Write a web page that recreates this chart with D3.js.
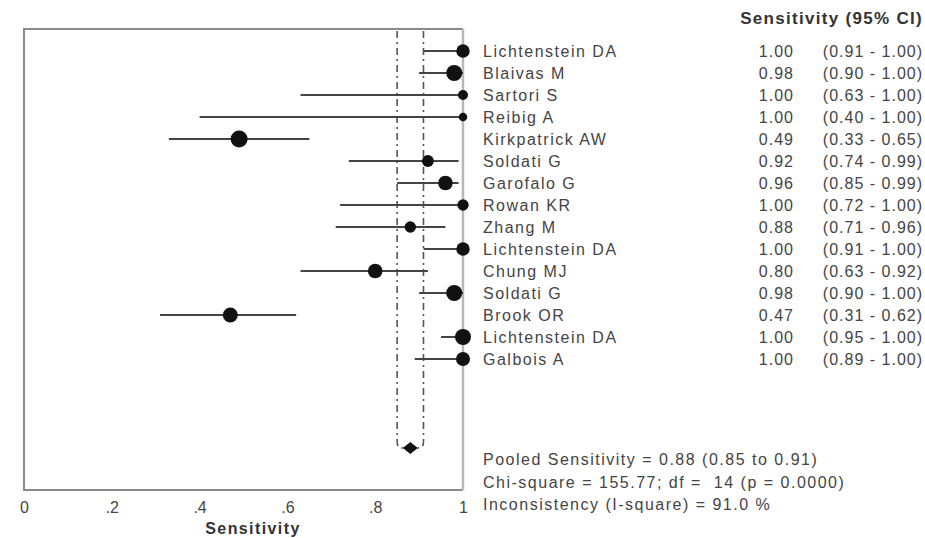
<!DOCTYPE html>
<html>
<head>
<meta charset="utf-8">
<script src="https://cdn.jsdelivr.net/npm/d3@7"></script>
<style>
	body { margin: 0; background: #fff; }
	text { font-family: "Liberation Sans", Arial, sans-serif; white-space: pre; }
</style>
</head>
<body>
<svg id="chart" width="925" height="538"></svg>
<script>
const studies = ["Lichtenstein DA", "Blaivas M", "Sartori S", "Reibig A", "Kirkpatrick AW", "Soldati G", "Garofalo G", "Rowan KR", "Zhang M", "Lichtenstein DA", "Chung MJ", "Soldati G", "Brook OR", "Lichtenstein DA", "Galbois A"]
const sens = [1.00, 0.98, 1.00, 1.00, 0.49, 0.92, 0.96, 1.00, 0.88, 1.00, 0.80, 0.98, 0.47, 1.00, 1.00]
const lower = [0.91, 0.90, 0.63, 0.40, 0.33, 0.74, 0.85, 0.72, 0.71, 0.91, 0.63, 0.90, 0.31, 0.95, 0.89]
const upper = [1.00, 1.00, 1.00, 1.00, 0.65, 0.99, 0.99, 1.00, 0.96, 1.00, 0.92, 1.00, 0.62, 1.00, 1.00]
// relative study weights (marker area)
const weights = [45, 64, 25, 18, 72, 36, 53, 32, 32, 45, 53, 64, 56, 64, 49]
const pooled = { est: 0.88, lo: 0.85, hi: 0.91 }
const ticks = [0, 0.2, 0.4, 0.6, 0.8, 1]
const statLines = [
	"Pooled Sensitivity = 0.88 (0.85 to 0.91)",
	"Chi-square = 155.77; df =  14 (p = 0.0000)",
	"Inconsistency (I-square) = 91.0 %"
]

const svg = d3.select("#chart")
const plotL = 24, plotR = 463, plotT = 29, plotB = 490
const x = d3.scaleLinear().domain([0, 1]).range([plotL, plotR])
const y = d3.scalePoint().domain(d3.range(studies.length)).range([51, 359])
const pooledY = 448
const r = d3.scaleSqrt().domain([0, d3.max(weights)]).range([0, 8.5])
const fmt = d3.format(".2f")

// plot frame
svg.append("path")
	.attr("d", `M${plotR},${plotT}H${plotL}V${plotB}H${plotR}`)
	.attr("fill", "none").attr("stroke", "#8a8a8a").attr("stroke-width", 2)
svg.append("line")
	.attr("x1", x(1)).attr("x2", x(1)).attr("y1", plotT).attr("y2", plotB)
	.attr("stroke", "#b8b8b8").attr("stroke-width", 2.5)

// pooled CI dash-dot lines
const hook = [[pooled.lo, 1], [pooled.hi, -1]]
hook.forEach(([v, dir]) => {
	svg.append("path")
		.attr("d", `M${x(v)},${plotT + 2}V${pooledY - 6}Q${x(v)},${pooledY} ${x(v) + dir * 6},${pooledY}`)
		.attr("fill", "none").attr("stroke", "#555").attr("stroke-width", 1.6)
		.attr("stroke-dasharray", "7,4,2,4")
})

// CI lines and points
const rows = svg.append("g")
studies.forEach((s, i) => {
	rows.append("line")
		.attr("x1", x(lower[i])).attr("x2", x(upper[i]))
		.attr("y1", y(i)).attr("y2", y(i))
		.attr("stroke", "#444").attr("stroke-width", 2)
	rows.append("circle")
		.attr("cx", x(sens[i])).attr("cy", y(i)).attr("r", r(weights[i]))
		.attr("fill", "#111")
})

// pooled diamond
svg.append("path")
	.attr("d", `M${x(pooled.est) - 7.5},${pooledY}L${x(pooled.est)},${pooledY - 6}L${x(pooled.est) + 7.5},${pooledY}L${x(pooled.est)},${pooledY + 6}Z`)
	.attr("fill", "#111")

// axis
const axis = d3.axisBottom(x).tickValues(ticks).tickSize(0)
	.tickFormat(d => d === 0 ? "0" : d === 1 ? "1" : d3.format(".1f")(d).replace("0.", "."))
const ag = svg.append("g").attr("transform", `translate(0,${plotB})`).call(axis)
ag.select(".domain").remove()
ag.selectAll("text").attr("y", 12).attr("font-size", 16).attr("fill", "#444")
	.attr("font-family", "Liberation Sans, Arial, sans-serif")

svg.append("text").attr("x", 253).attr("y", 534).attr("text-anchor", "middle")
	.attr("font-size", 16).attr("font-weight", "bold").attr("letter-spacing", 1.4)
	.attr("fill", "#333").text("Sensitivity")

// right-hand table
svg.append("text").attr("x", 923).attr("y", 24).attr("text-anchor", "end")
	.attr("font-size", 17).attr("font-weight", "bold").attr("letter-spacing", 1.3)
	.attr("fill", "#333").text("Sensitivity (95% CI)")

const table = svg.append("g").attr("font-size", 16).attr("fill", "#444")
studies.forEach((s, i) => {
	const ty = y(i) + 6
	table.append("text").attr("x", 483).attr("y", ty).attr("letter-spacing", 1.5).text(s)
	table.append("text").attr("x", 794).attr("y", ty).attr("text-anchor", "end")
		.attr("letter-spacing", 1).text(fmt(sens[i]))
	table.append("text").attr("x", 923).attr("y", ty).attr("text-anchor", "end")
		.attr("letter-spacing", 1).text(`(${fmt(lower[i])} - ${fmt(upper[i])})`)
})

statLines.forEach((t, i) => {
	table.append("text").attr("x", 483).attr("y", 465 + i * 22.5)
		.attr("letter-spacing", 1.5).text(t)
})
</script>
</body>
</html>
